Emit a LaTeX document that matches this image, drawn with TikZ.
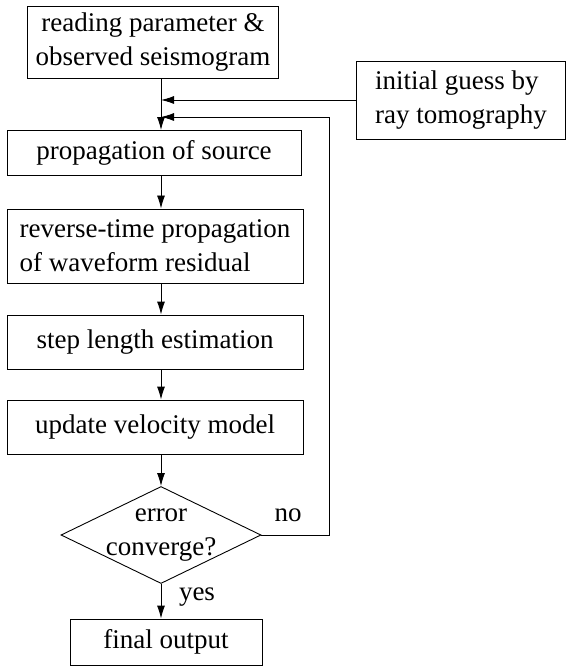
\documentclass[tikz,border=0pt]{standalone}
\usepackage{fontspec}
\setmainfont{Liberation Serif}
\usetikzlibrary{arrows.meta,shapes.geometric}
\begin{document}
\begin{tikzpicture}[
		x=1pt, y=-1pt,
		font=\fontsize{27}{34}\selectfont,
		arrow/.style={-{Latex[length=13pt,width=8pt]}, line width=0.9pt},
		block/.style={rectangle, draw, line width=0.9pt, align=center,
			inner sep=2pt},
		decision/.style={diamond, draw, line width=0.9pt, align=center,
			aspect=2, inner sep=-10pt, minimum width=200pt, minimum height=97pt}
		]
		\useasboundingbox (0,0) rectangle (567,668);
		
		% ---- Main column ----
		\node[block, minimum width=251pt, minimum height=72pt] (read) at (153, 42)
		{reading parameter \&\\observed seismogram};
		\node[block, minimum width=294pt, minimum height=45pt] (prop) at (154, 153)
		{propagation of source};
		\node[block, align=left, minimum width=296pt, minimum height=74pt] (rev) at (155, 246)
		{reverse-time propagation\\of waveform residual};
		\node[block, minimum width=296pt, minimum height=54pt] (steplen) at (155, 342)
		{step length estimation};
		\node[block, minimum width=296pt, minimum height=54pt] (upd) at (155, 427)
		{update velocity model};
		\node[decision] (conv) at (161, 535) {error\\converge?};
		\node[block, minimum width=192pt, minimum height=46pt] (final) at (166, 642)
		{final output};
		
		% ---- Side input ----
		\node[block, align=left, minimum width=209pt, minimum height=78pt] (init) at (461, 100)
		{initial guess by\\ray tomography};
		
		% ---- Loop corner ----
		\coordinate (loop) at (329, 117);
		
		% ---- Arrows (column through the diamond tip) ----
		\draw[arrow] (read.south -| conv.north) -- (prop.north -| conv.north);
		\draw[arrow] (init.west) -- (init.west -| conv.north);
		\draw[arrow] (conv.east) -| (loop) -- (loop -| conv.north);
		\draw[arrow] (prop.south -| conv.north) -- (rev.north -| conv.north);
		\draw[arrow] (rev.south -| conv.north) -- (steplen.north -| conv.north);
		\draw[arrow] (steplen.south -| conv.north) -- (upd.north -| conv.north);
		\draw[arrow] (upd.south -| conv.north) -- (conv.north);
		\draw[arrow] (conv.south) -- (conv.south |- final.north);
		
		% ---- Branch labels ----
		\node (no)  at (288, 515) {no};
		\node (yes) at (197, 597) {yes};
	\end{tikzpicture}
\end{document}
